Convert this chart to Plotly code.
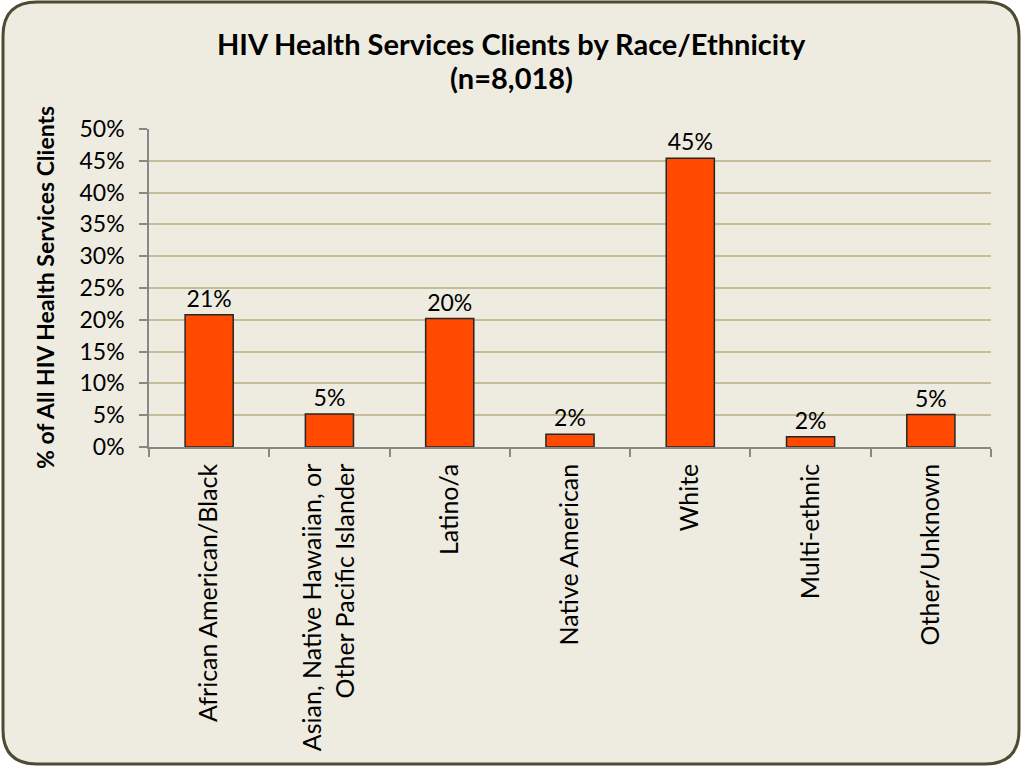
import plotly.graph_objects as go

categories = [
    "African American/Black",
    "Asian, Native Hawaiian, or<br>Other Pacific Islander",
    "Latino/a",
    "Native American",
    "White",
    "Multi-ethnic",
    "Other/Unknown",
]
values = [20.8, 5.2, 20.2, 2.0, 45.4, 1.6, 5.1]
y_ticks = [0, 5, 10, 15, 20, 25, 30, 35, 40, 45, 50]

title_line1 = "HIV Health Services Clients by Race/Ethnicity"
title_line2 = "(n=8,018)"
y_title = "% of All HIV Health Services Clients"

W, H = 1023, 767
ML, MR, MT, MB = 149, 32, 129, 320
PW, PH = W - ML - MR, H - MT - MB

def px_to_paper(px, py):
    return (px - ML) / PW, (H - MB - py) / PH

def rounded_rect_path(x0, y0, x1, y1, r):
    def P(x, y):
        a, b = px_to_paper(x, y)
        return f"{a:.5f},{b:.5f}"
    path = f"M {P(x0 + r, y0)} L {P(x1 - r, y0)} "
    path += f"Q {P(x1, y0)} {P(x1, y0 + r)} "
    path += f"L {P(x1, y1 - r)} Q {P(x1, y1)} {P(x1 - r, y1)} "
    path += f"L {P(x0 + r, y1)} Q {P(x0, y1)} {P(x0, y1 - r)} "
    path += f"L {P(x0, y0 + r)} Q {P(x0, y0)} {P(x0 + r, y0)} Z"
    return path

fig = go.Figure()
fig.add_trace(go.Bar(
    x=categories,
    y=values,
    width=0.4,
    marker=dict(color="#FF4A00", line=dict(color="#262626", width=1.5)),
    texttemplate="%{y:.0f}%",
    textposition="outside",
    textfont=dict(family="Lato", size=23, color="#000000"),
    cliponaxis=False,
    hoverinfo="skip",
))

fig.add_shape(
    type="path",
    xref="paper", yref="paper",
    path=rounded_rect_path(3, 2, 1019, 764, 34),
    fillcolor="#EEECE1",
    line=dict(color="#4F4A32", width=3),
    layer="below",
)

fig.add_annotation(
    text=f"<b>{title_line1}</b>", xref="paper", yref="paper",
    x=px_to_paper(511, 0)[0], y=px_to_paper(0, 43)[1],
    showarrow=False, xanchor="center", yanchor="middle",
    font=dict(family="Lato", size=29, color="#000000"),
)
fig.add_annotation(
    text=f"<b>{title_line2}</b>", xref="paper", yref="paper",
    x=px_to_paper(511, 0)[0], y=px_to_paper(0, 78)[1],
    showarrow=False, xanchor="center", yanchor="middle",
    font=dict(family="Lato", size=29, color="#000000"),
)
fig.add_annotation(
    text=f"<b>{y_title}</b>", xref="paper", yref="paper",
    x=px_to_paper(45, 0)[0], y=0.5, textangle=-90,
    showarrow=False, xanchor="center", yanchor="middle",
    font=dict(family="Lato", size=23, color="#000000"),
)

fig.update_layout(
    width=W, height=H,
    margin=dict(l=ML, r=MR, t=MT, b=MB, pad=0),
    paper_bgcolor="#FFFFFF",
    plot_bgcolor="#FFFFFF",
    showlegend=False,
    bargap=0.6,
)
fig.update_xaxes(
    type="category",
    tickson="boundaries",
    ticks="outside", ticklen=8, tickcolor="#878787", tickwidth=1.5,
    showline=True, linecolor="#878787", linewidth=1.5,
    showgrid=False,
    tickangle=-90,
    ticklabelstandoff=5,
    tickfont=dict(family="Lato", size=25, color="#000000"),
)
fig.update_yaxes(
    range=[0, 50],
    tickvals=y_ticks,
    ticktext=[f"{v}%" for v in y_ticks],
    ticks="outside", ticklen=8, tickcolor="#878787", tickwidth=1.5,
    showline=True, linecolor="#878787", linewidth=1.5,
    showgrid=True, gridcolor="#C4BD97", gridwidth=1.5,
    zeroline=False,
    ticklabelstandoff=10,
    tickfont=dict(family="Lato", size=23, color="#000000"),
)

fig.write_html(
    "out.html",
    config={"displayModeBar": False},
    post_script="document.body.style.margin='0';document.body.style.overflow='hidden';",
)
